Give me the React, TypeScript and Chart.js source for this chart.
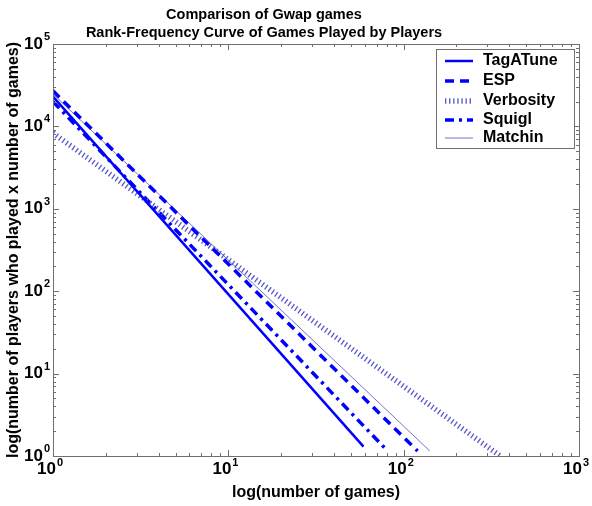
import React, { useEffect, useRef } from "react";
import { Chart, registerables } from "chart.js";

Chart.register(...registerables);

const titleLines = ["Comparison of Gwap games", "Rank-Frequency Curve of Games Played by Players"];
const xAxisTitle = "log(number of games)";
const yAxisTitle = "log(number of players who played x number of games)";
const xTickExponents = [0, 1, 2, 3];
const yTickExponents = [0, 1, 2, 3, 4, 5];

const seriesNames = ["TagATune", "ESP", "Verbosity", "Squigl", "Matchin"];
const tagATuneX = [1, 59];
const tagATuneY = [23000, 1.3];
const espX = [1, 120];
const espY = [27000, 1.15];
const verbosityX = [1, 355];
const verbosityY = [8300, 1.0];
const squiglX = [1, 81];
const squiglY = [20000, 1.15];
const matchinX = [1, 141];
const matchinY = [24700, 1.15];

const toPts = (xs: number[], ys: number[]) => xs.map((x, i) => ({ x, y: ys[i] }));

const FONT = "'Liberation Sans', Arial, sans-serif";

const decor = {
  id: "decor",
  afterDatasetsDraw(chart: any) {
    const ctx = chart.ctx as CanvasRenderingContext2D;
    const { left, right, top, bottom } = chart.chartArea;
    const xs = chart.scales.x;
    const ys = chart.scales.y;
    ctx.save();
    ctx.strokeStyle = "#707070";
    ctx.lineWidth = 1;
    ctx.strokeRect(left + 0.5, top + 0.5, right - left, bottom - top);
    const drawX = (v: number, len: number) => {
      const px = Math.round(xs.getPixelForValue(v)) + 0.5;
      ctx.beginPath();
      ctx.moveTo(px, bottom);
      ctx.lineTo(px, bottom - len);
      ctx.moveTo(px, top);
      ctx.lineTo(px, top + len);
      ctx.stroke();
    };
    const drawY = (v: number, len: number) => {
      const py = Math.round(ys.getPixelForValue(v)) + 0.5;
      ctx.beginPath();
      ctx.moveTo(left, py);
      ctx.lineTo(left + len, py);
      ctx.moveTo(right, py);
      ctx.lineTo(right - len, py);
      ctx.stroke();
    };
    xTickExponents.forEach((e, i) => {
      const base = Math.pow(10, e);
      drawX(base, 6);
      if (i < xTickExponents.length - 1) for (let m = 2; m <= 9; m++) drawX(base * m, 3);
    });
    yTickExponents.forEach((e, i) => {
      const base = Math.pow(10, e);
      drawY(base, 6);
      if (i < yTickExponents.length - 1) for (let m = 2; m <= 9; m++) drawY(base * m, 3);
    });
    ctx.fillStyle = "#000";
    ctx.textBaseline = "middle";
    xTickExponents.forEach((e) => {
      const px = xs.getPixelForValue(Math.pow(10, e));
      ctx.font = `bold 17px ${FONT}`;
      ctx.textAlign = "right";
      ctx.fillText("10", px + 3, 469);
      ctx.font = `bold 11px ${FONT}`;
      ctx.textAlign = "left";
      ctx.fillText(String(e), px + 4, 463);
    });
    yTickExponents.forEach((e) => {
      const py = ys.getPixelForValue(Math.pow(10, e));
      ctx.font = `bold 17px ${FONT}`;
      ctx.textAlign = "right";
      ctx.fillText("10", 43, py);
      ctx.font = `bold 11px ${FONT}`;
      ctx.textAlign = "left";
      ctx.fillText(String(e), 44, py - 7);
    });
    ctx.textAlign = "center";
    ctx.font = `bold 14.5px ${FONT}`;
    ctx.fillText(titleLines[0], 264, 15);
    ctx.fillText(titleLines[1], 264, 33);
    ctx.font = `bold 16px ${FONT}`;
    ctx.fillText(xAxisTitle, (left + right) / 2, 493);
    ctx.save();
    ctx.translate(14, (top + bottom) / 2);
    ctx.rotate(-Math.PI / 2);
    ctx.fillText(yAxisTitle, 0, 0);
    ctx.restore();
    const lx0 = 436, ly0 = 49, lx1 = 574, ly1 = 148;
    ctx.fillStyle = "#fff";
    ctx.fillRect(lx0, ly0, lx1 - lx0, ly1 - ly0);
    ctx.strokeStyle = "#707070";
    ctx.strokeRect(lx0 + 0.5, ly0 + 0.5, lx1 - lx0, ly1 - ly0);
    const rowY = [61, 81, 101, 120, 138];
    chart.data.datasets.forEach((ds: any, i: number) => {
      const y = rowY[i];
      ctx.save();
      ctx.strokeStyle = ds.borderColor;
      ctx.lineWidth = ds.borderWidth;
      ctx.setLineDash(ds.borderDash || []);
      ctx.beginPath();
      ctx.moveTo(445, y);
      ctx.lineTo(473, y);
      ctx.stroke();
      ctx.restore();
      ctx.fillStyle = "#000";
      ctx.textAlign = "left";
      ctx.font = `bold 16px ${FONT}`;
      ctx.fillText(ds.label, 483, y);
    });
    ctx.restore();
  },
};

export default function App() {
  const ref = useRef<HTMLCanvasElement | null>(null);
  useEffect(() => {
    if (!ref.current) return;
    const chart = new Chart(ref.current, {
      type: "line",
      data: {
        datasets: [
          { label: seriesNames[0], data: toPts(tagATuneX, tagATuneY), borderColor: "#0000ff", borderWidth: 2.5 },
          { label: seriesNames[1], data: toPts(espX, espY), borderColor: "#0000ff", borderWidth: 3.5, borderDash: [9, 6] },
          { label: seriesNames[2], data: toPts(verbosityX, verbosityY), borderColor: "#5656cc", borderWidth: 5.5, borderDash: [1.3, 2.8] },
          { label: seriesNames[3], data: toPts(squiglX, squiglY), borderColor: "#0000ff", borderWidth: 3.5, borderDash: [9, 5, 3, 5] },
          { label: seriesNames[4], data: toPts(matchinX, matchinY), borderColor: "#7474c4", borderWidth: 1 },
        ] as any,
      },
      options: {
        responsive: false,
        animation: false,
        parsing: true,
        elements: { point: { radius: 0 }, line: { tension: 0, fill: false } },
        layout: { padding: { left: 53, right: 13, top: 44, bottom: 50 } },
        plugins: { legend: { display: false }, title: { display: false }, tooltip: { enabled: false } },
        scales: {
          x: { type: "logarithmic", min: 1, max: 1000, display: false },
          y: { type: "logarithmic", min: 1, max: 100000, display: false },
        },
      },
      plugins: [decor],
    });
    return () => chart.destroy();
  }, []);
  return (
    <div style={{ position: "absolute", left: 0, top: 0, width: 592, height: 506, background: "#fff" }}>
      <canvas ref={ref} width={592} height={506} />
    </div>
  );
}
